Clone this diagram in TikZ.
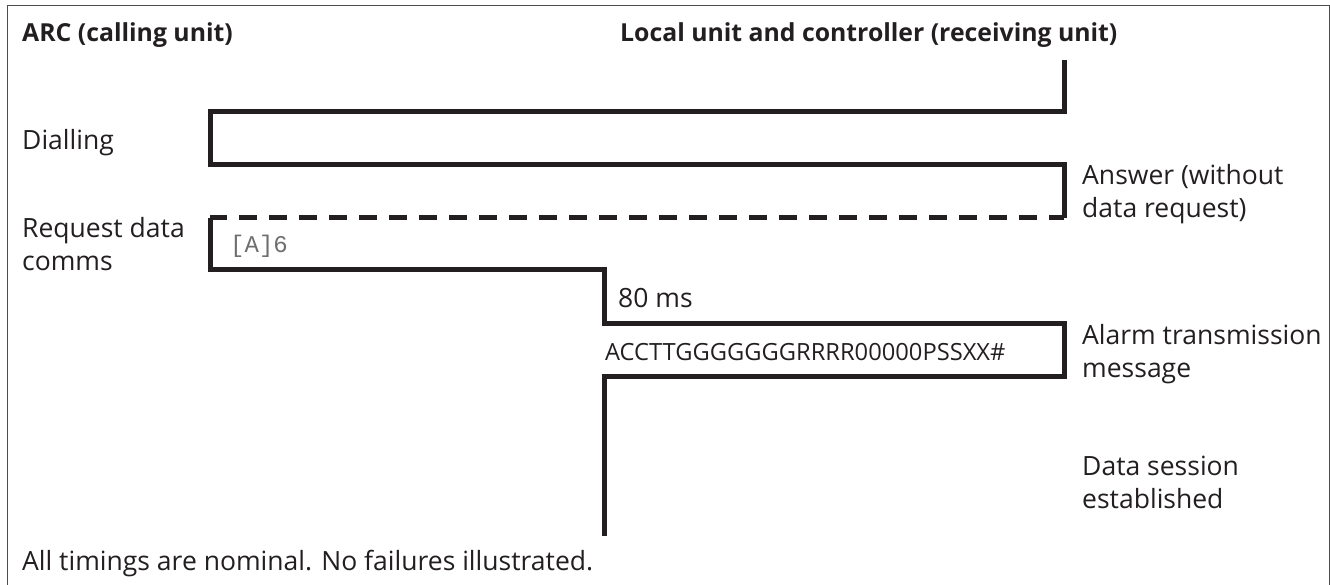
\documentclass[tikz,border=0pt]{standalone}
\usepackage{fontspec}
\setmainfont{Open Sans}
\newfontfamily\monofont{Liberation Mono}
\definecolor{ink}{HTML}{231F20}
\begin{document}
\begin{tikzpicture}[x=1pt,y=-1pt,
  wave/.style={draw=ink,line width=5pt,line join=miter},
  lbl/.style={anchor=base west,inner sep=0pt,text=ink,font=\fontsize{26.5}{33}\selectfont,align=left},
  hdr/.style={lbl,font=\fontsize{24.8}{33}\selectfont\bfseries},
  frame/.style={draw=ink!80,line width=1pt}]
\useasboundingbox (0,0) rectangle (1330,585);
\draw[frame] (7,600) -- (7,6) -- (1329,6) -- (1329,600);
% waveform
\coordinate (a0) at (1064,60);
\coordinate (a1) at (1064,112);
\coordinate (a2) at (210,112);
\coordinate (a3) at (210,165);
\coordinate (a4) at (1064,165);
\coordinate (a5) at (1064,218);
\coordinate (a6) at (210,218);
\coordinate (a7) at (210,270);
\coordinate (a8) at (604,270);
\coordinate (a9) at (604,323);
\coordinate (a10) at (1064,323);
\coordinate (a11) at (1064,376);
\coordinate (a12) at (604,376);
\coordinate (a13) at (604,536);
\draw[wave] (a0) -- (a1) -- (a2) -- (a3) -- (a4) -- (a5);
\draw[wave,dash pattern=on 18pt off 12pt,dash phase=3pt] (a5) -- (a6);
\draw[wave] (a6) -- (a7) -- (a8) -- (a9) -- (a10) -- (a11) -- (a12) -- (a13);
% texts (multi-line nodes: base = last line)
\node[hdr] (arc) at (22,42) {ARC (calling unit)};
\node[hdr] (loc) at (620,42) {Local unit and controller (receiving unit)};
\node[lbl] (dial) at (22,150) {Dialling};
\node[lbl] (req) at (22,271) {Request data\\comms};
\node[lbl,font=\monofont\fontsize{24}{30}\selectfont,text=ink!65] (a6t) at (230,253) {[A]6};
\node[lbl] (ms) at (618,307) {80 ms};
\node[lbl,font=\fontsize{23.7}{30}\selectfont] (msg) at (605,360) {ACCTTGGGGGGGRRRR00000PSSXX\#};
\node[lbl] (ans) at (1082,218) {Answer (without\\data request)};
\node[lbl] (alm) at (1082,377) {Alarm transmission\\message};
\node[lbl] (ses) at (1082,508) {Data session\\established};
\node[lbl] (note) at (22,570) {All timings are nominal. No failures illustrated.};
\end{tikzpicture}
\end{document}
